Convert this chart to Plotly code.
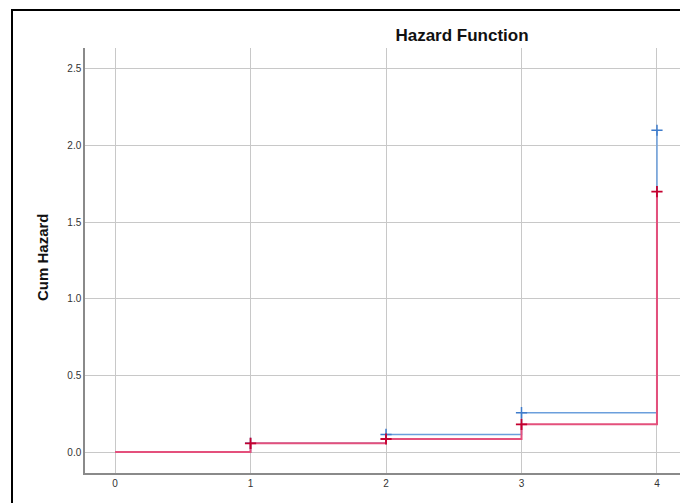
import plotly.graph_objects as go

# Data
time_points = [0, 1, 2, 3, 4]
blue_hazard = [0.0, 0.057, 0.115, 0.257, 2.10]
red_hazard = [0.0, 0.057, 0.085, 0.181, 1.70]
x_ticks = [0, 1, 2, 3, 4]
y_ticks = [0.0, 0.5, 1.0, 1.5, 2.0, 2.5]
y_tick_labels = ["0.0", "0.5", "1.0", "1.5", "2.0", "2.5"]

W, H = 680, 503
L, R, T, B = 85, 0, 48, 30
pw, ph = W - L - R, H - T - B

def px_to_paper_x(px):
    return (px - L) / pw

def px_to_paper_y(py):
    return (H - B - py) / ph

fig = go.Figure()

blue_line = "#6b9fdc"
blue_mark = "#3f7ccb"
red_line = "#e4507c"
red_mark = "#c4002f"

fig.add_trace(go.Scatter(x=time_points, y=blue_hazard, mode="lines", line=dict(color=blue_line, width=1.5, shape="hv"),
                         showlegend=False, hoverinfo="skip"))
fig.add_trace(go.Scatter(x=time_points[1:], y=blue_hazard[1:], mode="markers",
                         marker=dict(symbol="cross-thin", size=8, line=dict(color=blue_mark, width=1.5)),
                         showlegend=False))
fig.add_trace(go.Scatter(x=time_points, y=red_hazard, mode="lines", line=dict(color=red_line, width=2, shape="hv"),
                         showlegend=False, hoverinfo="skip"))
fig.add_trace(go.Scatter(x=time_points[1:], y=red_hazard[1:], mode="markers",
                         marker=dict(symbol="cross-thin", size=8, line=dict(color=red_mark, width=1.8)),
                         showlegend=False))

fig.update_layout(
    width=W, height=H,
    margin=dict(l=L, r=R, t=T, b=B, pad=0),
    paper_bgcolor="white", plot_bgcolor="white",
    font=dict(family="Liberation Sans, Arial, sans-serif", color="#333333"),
    title=dict(text="<b>Hazard Function</b>", x=px_to_paper_x(462), xref="paper", xanchor="center",
               y=1 - 35 / H, yref="container", yanchor="middle",
               font=dict(size=17, color="#111111")),
    xaxis=dict(range=[-0.222, 4.17], tickvals=x_ticks, ticktext=[str(v) for v in x_ticks],
               showgrid=True, gridcolor="#c8c8c8", gridwidth=1, zeroline=False,
               showline=True, linecolor="#8a8a8a", linewidth=1.5, ticks="", ticklen=0,
               tickfont=dict(size=10, color="#333333")),
    yaxis=dict(range=[-0.137, 2.637], tickvals=y_ticks, ticktext=y_tick_labels,
               showgrid=True, gridcolor="#c8c8c8", gridwidth=1, zeroline=False,
               showline=True, linecolor="#8a8a8a", linewidth=1.5, ticks="", ticklen=6, tickcolor="white",
               tickfont=dict(size=10, color="#333333")),
    annotations=[dict(text="<b>Cum Hazard</b>", x=px_to_paper_x(42), y=px_to_paper_y(257), xref="paper", yref="paper",
                      textangle=-90, showarrow=False, xanchor="center", yanchor="middle",
                      font=dict(size=15, color="#111111"))],
    shapes=[dict(type="rect", xref="paper", yref="paper",
                 x0=px_to_paper_x(12), x1=px_to_paper_x(760), y0=px_to_paper_y(560), y1=px_to_paper_y(10),
                 line=dict(color="black", width=2), fillcolor="rgba(0,0,0,0)", layer="above")],
)

fig.write_html("out.html", config={"displayModeBar": False},
               post_script="document.body.style.margin='0';document.body.style.overflow='hidden';")
